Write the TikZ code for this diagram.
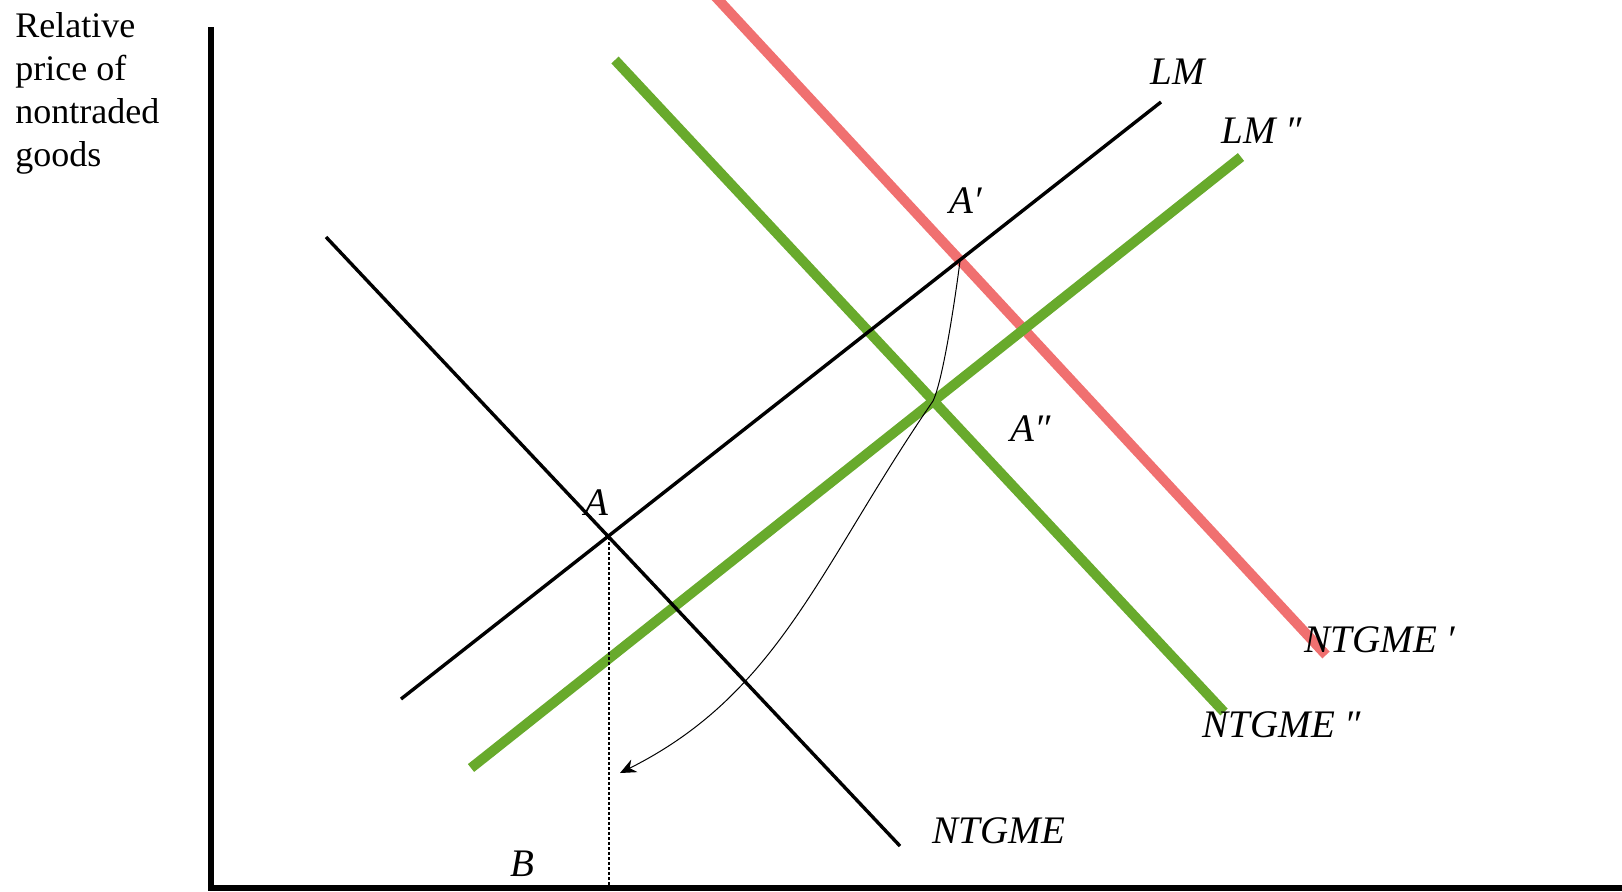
\documentclass[tikz,border=0pt]{standalone}
\usepackage{fontspec}
\setmainfont{Liberation Serif}
\usepackage{tikz}
\usetikzlibrary{arrows.meta, positioning, calc}
\definecolor{shiftgreen}{RGB}{104,170,44}
\definecolor{shockred}{RGB}{240,112,112}
\tikzset{
    axis/.style={line width=3pt, black},
    schedule/.style={line width=1.7pt, black},
    shifted/.style={line width=5pt, shiftgreen},
    shock/.style={line width=5pt, shockred},
    lbl/.style={font=\fontsize{19.5}{22}\selectfont\itshape, inner sep=0pt},
    guide/.style={line width=1.4pt, dash pattern=on 1.5pt off 1pt},
    adjust/.style={line width=0.5pt, -{Stealth[length=8pt, width=7pt]}}
}

\begin{document}
\begin{tikzpicture}[x=0.5pt, y=-0.5pt]
    \useasboundingbox (0,0) rectangle (1622,891);

    % Axes
    \coordinate (origin) at (211,888);
    \coordinate (ytop) at (211,27);
    \coordinate (xend) at (1622,888);
    \draw[axis] (ytop) -- (origin) -- (xend);
    \node[anchor=north west, inner sep=0pt, align=left,
          font=\fontsize{18}{21.5}\selectfont] (ylabel) at (15,12)
        {Relative\\price of\\nontraded\\goods};

    % Curve end points
    \coordinate (ntg-s) at (326,237);    \coordinate (ntg-e) at (900,846);
    \coordinate (lm-s) at (401,699);     \coordinate (lm-e) at (1161,102);
    \coordinate (lmpp-s) at (471,768);   \coordinate (lmpp-e) at (1241,157);
    \coordinate (ntgpp-s) at (615,60);   \coordinate (ntgpp-e) at (1224,712);
    \coordinate (ntgp-s) at (700,-20);   \coordinate (ntgp-e) at (1326,655);

    % Shifted schedules
    \draw[shock] (ntgp-s) -- (ntgp-e);
    \draw[shifted] (ntgpp-s) -- (ntgpp-e);
    \draw[shifted] (lmpp-s) -- (lmpp-e);

    % Initial schedules
    \draw[schedule] (ntg-s) -- (ntg-e);
    \draw[schedule] (lm-s) -- (lm-e);

    % Equilibria
    \coordinate (A) at (609,537);
    \coordinate (Ap) at (960,261);
    \coordinate (App) at (933,401);
    \coordinate (Abot) at (609,888);
    \coordinate (tip) at (620,773);
    \draw[guide] (A) -- (Abot);
    \draw[adjust] (Ap) .. controls (955,300) and (943,380) .. (App)
        .. controls (820,565) and (780,693) .. (tip);

    % Labels
    \node[lbl] (lA) at (596,503) {A};
    \node[lbl] (lAp) at (966,201) {A′};
    \node[lbl] (lApp) at (1031,429) {A″};
    \node[lbl] (lB) at (522,864) {B};
    \node[lbl] (lLM) at (1178,72) {LM};
    \node[lbl] (lLMpp) at (1262,131) {LM ″};
    \node[lbl] (lNTG) at (999,831) {NTGME};
    \node[lbl] (lNTGp) at (1380,640) {NTGME ′};
    \node[lbl] (lNTGpp) at (1282,725) {NTGME ″};
\end{tikzpicture}
\end{document}
